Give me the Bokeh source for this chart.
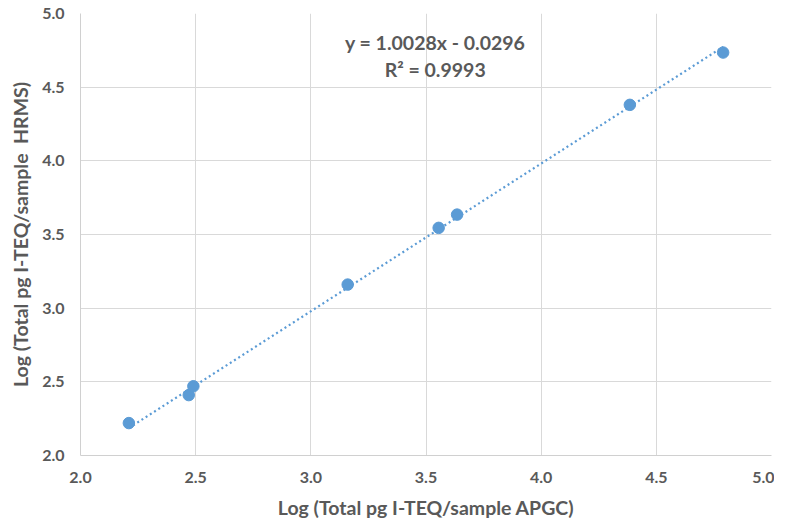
from bokeh.plotting import figure
from bokeh.models import Range1d, FixedTicker, ColumnDataSource, CustomJSTickFormatter
from bokeh.core.properties import value
from bokeh.embed import file_html
from bokeh.resources import INLINE

apgc = [2.21, 2.47, 2.49, 3.16, 3.555, 3.635, 4.385, 4.79]
hrms = [2.22, 2.41, 2.47, 3.16, 3.545, 3.635, 4.38, 4.735]
slope = 1.0028
intercept = -0.0296
eq_lines = ["y = 1.0028x - 0.0296", "R² = 0.9993"]
ticks = [2.0, 2.5, 3.0, 3.5, 4.0, 4.5, 5.0]

FONT = "Lato"
GRAY = "#595959"
BLUE = "#5b9bd5"

p = figure(frame_width=691, frame_height=442, output_backend="svg", toolbar_location=None,
           x_range=Range1d(2.0, 5.0), y_range=Range1d(2.0, 5.0),
           min_border_left=80, min_border_right=3, min_border_top=13, min_border_bottom=50)
p.outline_line_color = None
p.background_fill_color = "white"

fmt = CustomJSTickFormatter(code="return tick.toFixed(1);")
for ax in (p.xaxis[0], p.yaxis[0]):
    ax.ticker = FixedTicker(ticks=ticks)
    ax.formatter = fmt
    ax.major_tick_line_color = None
    ax.minor_tick_line_color = None
    ax.axis_line_color = "#d0d0d0"
    ax.major_label_text_font = FONT
    ax.major_label_text_font_style = "bold"
    ax.major_label_text_font_size = "16px"
    ax.major_label_text_color = GRAY
    ax.axis_label_text_font = FONT
    ax.axis_label_text_font_style = "bold"
    ax.axis_label_text_font_size = "19.5px"
    ax.axis_label_text_color = GRAY
p.xaxis.axis_label = "Log (Total pg I-TEQ/sample APGC)"
p.yaxis.axis_label = "Log (Total pg I-TEQ/sample\u00a0 HRMS)"
p.xaxis.major_label_standoff = 10
p.yaxis.major_label_standoff = 10
p.xaxis.axis_label_standoff = 10
p.yaxis.axis_label_standoff = 7

p.xgrid.grid_line_color = "#d9d9d9"
p.ygrid.grid_line_color = "#d9d9d9"
p.xgrid.ticker = FixedTicker(ticks=ticks)
p.ygrid.ticker = FixedTicker(ticks=ticks)

x0, x1 = min(apgc), max(apgc)
p.line([x0, x1], [slope * x0 + intercept, slope * x1 + intercept],
       line_color=BLUE, line_width=2.2, line_dash="2 3")
p.scatter(apgc, hrms, size=11.5, fill_color=BLUE, line_color=BLUE)

src = ColumnDataSource(dict(x=[3.54, 3.54], y=[4.80, 4.62], t=eq_lines))
p.text(x="x", y="y", text="t", source=src, text_align="center", text_baseline="middle",
       text_font=value(FONT), text_font_style="bold", text_font_size="19.5px", text_color=GRAY)

open("out.html", "w").write(file_html(p, INLINE))
